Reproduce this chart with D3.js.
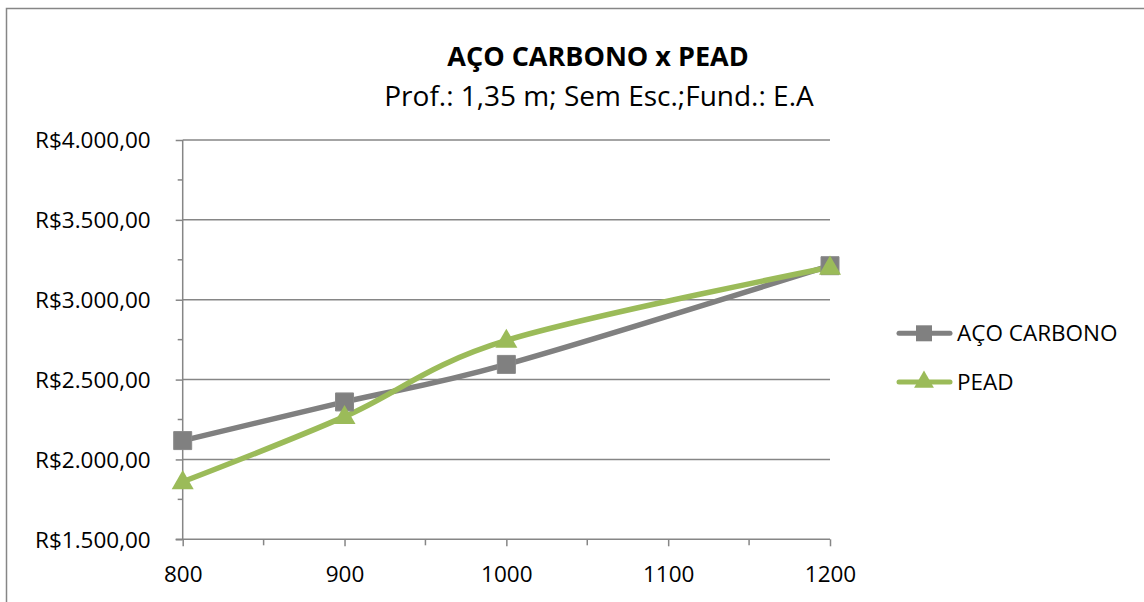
<!DOCTYPE html>
<html>
<head>
<meta charset="utf-8">
<script src="https://cdn.jsdelivr.net/npm/d3@7"></script>
<style>
html,body{margin:0;padding:0;background:#fff;overflow:hidden;}
text{font-family:"Open Sans",sans-serif;fill:#000;}
</style>
</head>
<body>
<svg id="chart" width="1144" height="602" style="display:block"></svg>
<script>
const xValues = [800, 900, 1000, 1200];
const acoCarbono = [2118, 2360, 2595, 3213];
const pead = [1860, 2268, 2745, 3203];
const seriesNames = ["AÇO CARBONO", "PEAD"];
const xTicks = [800, 900, 1000, 1100, 1200];
const yTicks = [1500, 2000, 2500, 3000, 3500, 4000];
const titleText = "AÇO CARBONO x PEAD";
const subtitleText = "Prof.: 1,35 m; Sem Esc.;Fund.: E.A";

const svg = d3.select("#chart");
const axisColor = "#868686";
const colors = ["#808080", "#9BBB59"];

// chart frame (left and top edges visible)
svg.append("path").attr("d", "M6.5,602V8.5H1144").attr("fill", "none")
  .attr("stroke", axisColor).attr("stroke-width", 1.5);

const x = d3.scaleLinear().domain([800, 1200]).range([182.7, 830]);
const y = d3.scaleLinear().domain([1500, 4000]).range([539.3, 140]);

const fmt = v => "R$" + d3.format(",.2f")(v).replace(/,/g, "#").replace(".", ",").replace(/#/g, ".");

// gridlines
svg.append("g").selectAll("line").data(yTicks.filter(v => v > 1500)).join("line")
  .attr("x1", x(800)).attr("x2", x(1200))
  .attr("y1", d => y(d)).attr("y2", d => y(d))
  .attr("stroke", axisColor).attr("stroke-width", 1.5);

// Y axis
const yAxis = d3.axisLeft(y).tickValues(yTicks).tickSize(7).tickFormat(fmt);
const gy = svg.append("g").attr("transform", `translate(${x(800)},0)`).call(yAxis);
gy.select(".domain").attr("stroke", axisColor).attr("stroke-width", 1.5).attr("d", `M0,${y(1500)}V${y(4000)}`);
gy.selectAll(".tick line").attr("stroke", axisColor).attr("stroke-width", 1.5);
gy.selectAll(".tick text").attr("x", -32).attr("dy", "0.35em")
  .style("font-size", "22.5px").style("font-family", "'Open Sans',sans-serif").attr("fill", "#000");
const yMinor = d3.range(1750, 4000, 500);
svg.append("g").selectAll("line").data(yMinor).join("line")
  .attr("x1", x(800) - 5).attr("x2", x(800)).attr("y1", d => y(d)).attr("y2", d => y(d))
  .attr("stroke", axisColor).attr("stroke-width", 1.5);

// X axis
const xAxis = d3.axisBottom(x).tickValues(xTicks).tickSize(7).tickFormat(d3.format("d"));
const gx = svg.append("g").attr("transform", `translate(0,${y(1500)})`).call(xAxis);
gx.select(".domain").attr("stroke", axisColor).attr("stroke-width", 1.5).attr("d", `M${x(800) - 7},0H${x(1200)}`);
gx.selectAll(".tick line").attr("stroke", axisColor).attr("stroke-width", 1.5);
gx.selectAll(".tick text").attr("y", 27).attr("dy", "0.71em")
  .style("font-size", "22.5px").style("font-family", "'Open Sans',sans-serif").attr("fill", "#000");
const xMinor = d3.range(850, 1200, 100);
svg.append("g").selectAll("line").data(xMinor).join("line")
  .attr("x1", d => x(d)).attr("x2", d => x(d)).attr("y1", y(1500)).attr("y2", y(1500) + 6)
  .attr("stroke", axisColor).attr("stroke-width", 1.5);

// lines
const data = [acoCarbono, pead];
const line = d3.line().x((d, i) => x(xValues[i])).y(d => y(d)).curve(d3.curveCardinal.tension(0));
data.forEach((s, k) => {
  svg.append("path").datum(s).attr("d", line).attr("fill", "none")
    .attr("stroke", colors[k]).attr("stroke-width", 5.5).attr("stroke-linejoin", "round").attr("stroke-linecap", "round");
});
const sq = d3.symbol().type(d3.symbolSquare).size(18 * 18);
const tri = d3.symbol().type(d3.symbolTriangle).size(210);
svg.append("g").selectAll("path").data(acoCarbono).join("path")
  .attr("d", sq).attr("transform", (d, i) => `translate(${x(xValues[i])},${y(d)})`)
  .attr("fill", colors[0]).attr("stroke", "#8a8a8a").attr("stroke-width", 1);
svg.append("g").selectAll("path").data(pead).join("path")
  .attr("d", tri).attr("transform", (d, i) => `translate(${x(xValues[i])},${y(d) + 1})`)
  .attr("fill", colors[1]);

// title
svg.append("text").attr("x", 598).attr("y", 66).attr("text-anchor", "middle")
  .style("font-size", "27px").style("font-weight", "bold").text(titleText);
svg.append("text").attr("x", 599).attr("y", 106).attr("text-anchor", "middle")
  .style("font-size", "28px").text(subtitleText);

// legend
const legY = [333.3, 382];
seriesNames.forEach((n, k) => {
  const g = svg.append("g");
  g.append("line").attr("x1", 899).attr("x2", 950).attr("y1", legY[k]).attr("y2", legY[k])
    .attr("stroke", colors[k]).attr("stroke-width", 5).attr("stroke-linecap", "round");
  g.append("path").attr("d", k === 0 ? d3.symbol().type(d3.symbolSquare).size(16 * 16)() : d3.symbol().type(d3.symbolTriangle).size(170)())
    .attr("transform", `translate(924,${legY[k]})`).attr("fill", colors[k]);
  g.append("text").attr("x", 957).attr("y", legY[k]).attr("dy", "0.35em")
    .style("font-size", "22.5px").text(n);
});
</script>
</body>
</html>
